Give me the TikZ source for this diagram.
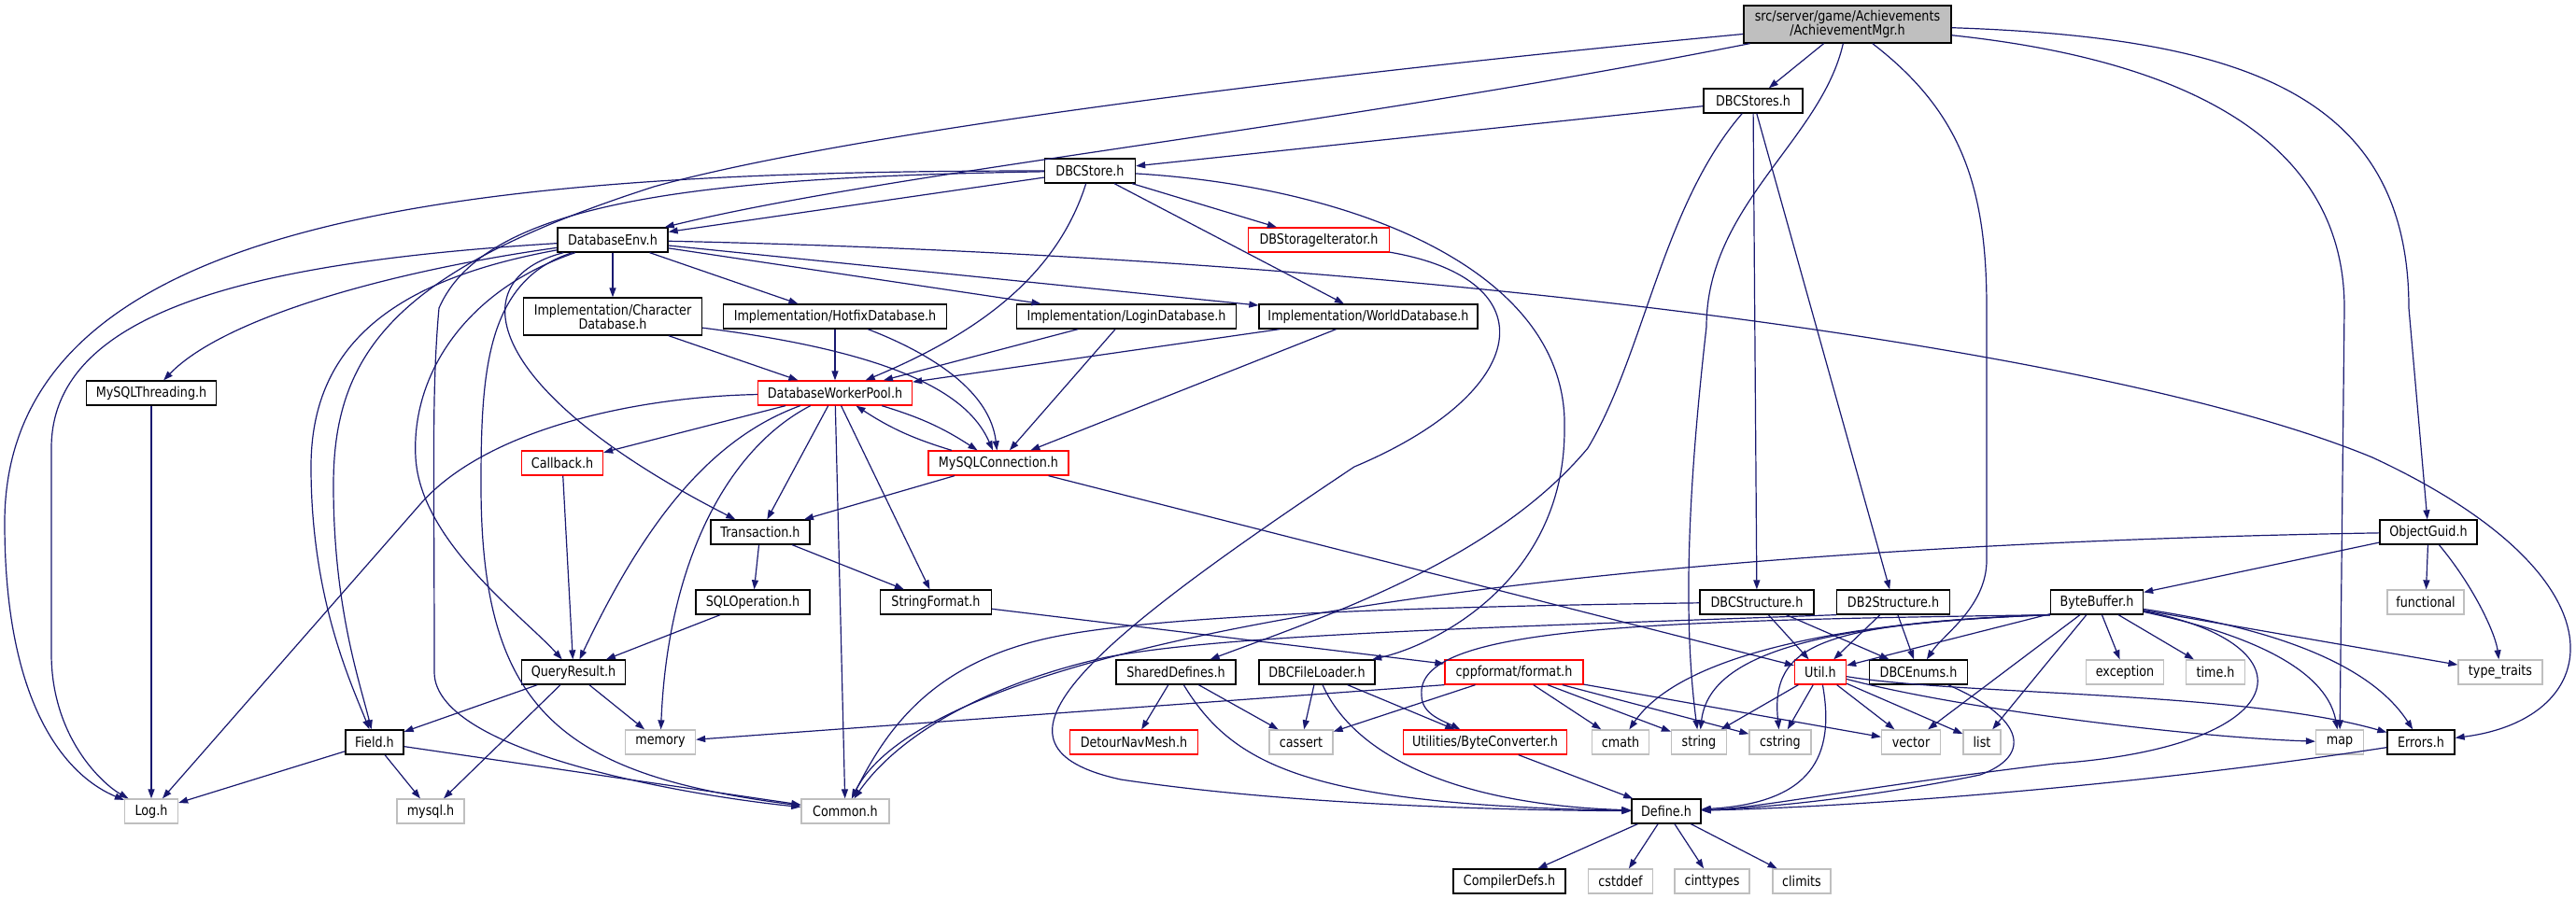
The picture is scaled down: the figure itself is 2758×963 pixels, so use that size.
\documentclass[tikz,border=0pt]{standalone}
\usepackage{fontspec}
\setmainfont{DejaVu Sans}[FakeStretch=0.85]
\usetikzlibrary{arrows.meta}
\definecolor{incblue}{HTML}{191970}
\definecolor{sysgrey}{HTML}{BFBFBF}

\begin{document}
\begin{tikzpicture}[x=1pt, y=-1pt,
    hdr/.style={draw=black, line width=1.3pt, fill=white, minimum height=26pt, inner sep=0pt, font=\fontsize{15}{15}\selectfont},
    redhdr/.style={hdr, draw=red},
    syshdr/.style={hdr, draw=sysgrey},
    inc/.style={draw=incblue, line width=1.2pt, -{Triangle[length=10pt,width=7pt]}}]

  \path[fill=white] (0,0) rectangle (2758,963);
  \useasboundingbox (0,0) rectangle (2758,963);

  \node[hdr, fill=sysgrey, minimum width=222pt, minimum height=40pt, align=center] (root) at (1978,26) {src/server/game/Achievements\\/AchievementMgr.h};
  \node[hdr, minimum width=191pt, minimum height=40pt, align=center] (chardb) at (656,339) {Implementation/Character\\Database.h};
  \node[hdr, minimum width=239pt] (hotfixdb) at (894,339) {Implementation/HotfixDatabase.h};
  \node[hdr, minimum width=235pt] (logindb) at (1206,339) {Implementation/LoginDatabase.h};
  \node[hdr, minimum width=234pt] (worlddb) at (1465,339) {Implementation/WorldDatabase.h};
  \node[redhdr, minimum width=148pt] (cppformat) at (1621,720) {cppformat/format.h};
  \node[redhdr, minimum width=175pt] (byteconv) at (1590,795) {Utilities/ByteConverter.h};

  \foreach \n/\x/\y/\w/\lbl in {dbcstores/1877/108/106/DBCStores.h, dbcstore/1167/183/97/DBCStore.h,
      dbenv/656/257/118/DatabaseEnv.h, mysqlthr/162/421/139/MySQLThreading.h, transaction/814/570/106/Transaction.h,
      objectguid/2600/570/104/ObjectGuid.h, sqlop/806/645/122/SQLOperation.h, stringfmt/1002/645/119/StringFormat.h,
      dbcstructure/1881/645/122/DBCStructure.h, db2structure/2027/645/121/DB2Structure.h, bytebuffer/2245/645/99/ByteBuffer.h,
      queryresult/614/720/111/QueryResult.h, shareddefs/1259/720/128/SharedDefines.h, dbcfileloader/1410/720/124/DBCFileLoader.h,
      dbcenums/2054/720/105/DBCEnums.h, field/401/795/62/Field.h, errors/2592/795/72/Errors.h,
      define/1784/869/74/Define.h, compilerdefs/1616/944/120/CompilerDefs.h}
    \node[hdr, minimum width=\w pt] (\n) at (\x,\y) {\lbl};

  \foreach \n/\x/\y/\w/\lbl in {dbstorit/1412/257/151/DBStorageIterator.h, dwp/894/421/165/DatabaseWorkerPool.h,
      callback/602/496/87/Callback.h, mysqlconn/1069/496/150/MySQLConnection.h, util/1949/720/55/Util.h,
      detour/1214/795/137/DetourNavMesh.h}
    \node[redhdr, minimum width=\w pt] (\n) at (\x,\y) {\lbl};

  \foreach \n/\x/\y/\w/\lbl in {functional/2597/645/82/functional, exception/2275/720/83/exception, timeh/2372/720/63/time.h,
      typetraits/2677/720/90/type\_traits, memory/707/795/75/memory, cassert/1393/795/68/cassert, cmath/1735/795/61/cmath,
      string/1819/795/59/string, cstring/1906/795/66/cstring, vector/2046/795/63/vector, list/2122/795/40/list,
      map/2505/795/51/map, logh/162/869/57/Log.h, mysqlh/461/869/72/mysql.h, common/905/869/94/Common.h,
      cstddef/1735/944/69/cstddef, cinttypes/1833/944/80/cinttypes, climits/1929/944/62/climits}
    \node[syshdr, minimum width=\w pt] (\n) at (\x,\y) {\lbl};

  \foreach \a/\b in {root/dbcstores, dbcstores/dbcstore, dbcstores/dbcstructure, dbcstores/db2structure,
      dbcstore/dbenv, dbcstore/dbstorit, dbcstore/worlddb, dbenv/chardb, dbenv/hotfixdb, dbenv/logindb, dbenv/worlddb,
      chardb/dwp, hotfixdb/dwp, logindb/dwp, logindb/mysqlconn, worlddb/dwp, worlddb/mysqlconn, mysqlthr/logh,
      dwp/callback, dwp/transaction, dwp/common, dwp/stringfmt, mysqlconn/transaction, mysqlconn/util,
      callback/queryresult, transaction/sqlop, transaction/stringfmt, sqlop/queryresult,
      queryresult/field, queryresult/memory, queryresult/mysqlh, field/logh, field/mysqlh, field/common,
      stringfmt/cppformat, shareddefs/detour, shareddefs/cassert, dbcfileloader/cassert, dbcfileloader/byteconv,
      cppformat/cassert, cppformat/cmath, cppformat/string, cppformat/cstring, cppformat/vector, byteconv/define,
      dbcstructure/util, dbcstructure/dbcenums, db2structure/util, db2structure/dbcenums,
      objectguid/bytebuffer, objectguid/functional, bytebuffer/util, bytebuffer/vector, bytebuffer/list,
      bytebuffer/exception, bytebuffer/timeh, bytebuffer/typetraits, util/string, util/cstring, util/vector, util/list,
      define/compilerdefs, define/cstddef, define/cinttypes, define/climits}
    \draw[inc] (\a) -- (\b);

  \draw[inc] (root) .. controls (1400,140) and (950,185) .. (dbenv);
  \draw[inc] (root) .. controls (1300,90) and (880,150) .. (700,200) .. controls (420,290) and (357,380) .. (357,520) .. controls (357,650) and (385,730) .. (field);
  \draw[inc] (root) .. controls (1950,150) and (1827,220) .. (1827,350) .. controls (1810,500) and (1800,650) .. (string);
  \draw[inc] (root) .. controls (2100,120) and (2127,200) .. (2127,330) -- (2127,600) .. controls (2127,650) and (2080,680) .. (dbcenums);
  \draw[inc] (root) .. controls (2300,60) and (2510,130) .. (2510,330) -- (map);
  \draw[inc] (root) .. controls (2400,40) and (2579,100) .. (2579,330) -- (objectguid);

  \draw[inc] (dbcstores) .. controls (1780,220) and (1760,380) .. (1700,480) .. controls (1600,600) and (1420,660) .. (shareddefs);

  \draw[inc] (dbcstore) .. controls (500,183) and (5,230) .. (5,560) .. controls (5,770) and (80,835) .. (logh);
  \draw[inc] (dbcstore) .. controls (750,190) and (520,215) .. (470,330) .. controls (462,420) and (465,500) .. (465,720) .. controls (465,810) and (760,855) .. (common);
  \draw[inc] (dbcstore) .. controls (1130,300) and (1040,360) .. (dwp);
  \draw[inc] (dbcstore) .. controls (1450,200) and (1680,290) .. (1675,460) .. controls (1675,620) and (1540,690) .. (dbcfileloader);
  \draw[inc] (dbstorit) .. controls (1660,300) and (1640,420) .. (1450,500) .. controls (1150,700) and (1040,800) .. (1200,835) .. controls (1400,865) and (1650,868) .. (define);

  \draw[inc] (dbenv) .. controls (280,280) and (55,330) .. (55,480) -- (55,700) .. controls (55,790) and (110,840) .. (logh);
  \draw[inc] (dbenv) .. controls (420,290) and (240,340) .. (mysqlthr);
  \draw[inc] (dbenv) .. controls (420,300) and (333,370) .. (333,500) .. controls (333,640) and (375,730) .. (field);
  \draw[inc] (dbenv) .. controls (500,310) and (440,400) .. (445,490) .. controls (450,580) and (560,660) .. (queryresult);
  \draw[inc] (dbenv) .. controls (520,300) and (515,400) .. (515,520) .. controls (515,760) and (600,830) .. (common);
  \draw[inc] (dbenv) .. controls (490,300) and (520,420) .. (transaction);
  \draw[inc] (dbenv) .. controls (1500,275) and (2250,370) .. (2540,490) .. controls (2820,620) and (2790,770) .. (errors);

  \draw[inc] (chardb) .. controls (980,380) and (1040,430) .. (mysqlconn);
  \draw[inc] (hotfixdb) .. controls (1000,380) and (1060,420) .. (mysqlconn);
  \draw[inc] (dwp) to[bend left=8] (mysqlconn);
  \draw[inc] (mysqlconn) to[bend left=8] (dwp);
  \draw[inc] (dwp) .. controls (680,425) and (520,460) .. (450,540) -- (logh);
  \draw[inc] (dwp) .. controls (760,470) and (690,560) .. (queryresult);
  \draw[inc] (dwp) .. controls (780,480) and (715,600) .. (memory);

  \draw[inc] (cppformat.south west) -- (memory);
  \draw[inc] (shareddefs) .. controls (1320,820) and (1400,862) .. (define);
  \draw[inc] (dbcfileloader) .. controls (1450,810) and (1560,862) .. (define);

  \draw[inc] (dbcstructure) .. controls (1500,650) and (1250,660) .. (1140,680) .. controls (1000,705) and (950,780) .. (common);
  \draw[inc] (db2structure.south west) .. controls (1600,672) and (1300,680) .. (1180,705) .. controls (1050,735) and (960,790) .. (common);
  \draw[inc] (objectguid) .. controls (1700,585) and (1000,680) .. (common);
  \draw[inc] (objectguid) .. controls (2650,630) and (2672,680) .. (typetraits);

  \draw[inc] (bytebuffer.south west) .. controls (1750,665) and (1515,672) .. (1522,745) .. controls (1522,765) and (1545,772) .. (byteconv);
  \draw[inc] (bytebuffer.south west) .. controls (1950,668) and (1830,700) .. (string);
  \draw[inc] (bytebuffer.south west) .. controls (1950,668) and (1895,690) .. (cstring);
  \draw[inc] (bytebuffer.south west) .. controls (1980,665) and (1800,700) .. (cmath);
  \draw[inc] (bytebuffer) .. controls (2460,690) and (2495,740) .. (map);
  \draw[inc] (bytebuffer) .. controls (2480,680) and (2550,730) .. (errors);
  \draw[inc] (bytebuffer) .. controls (2480,690) and (2460,800) .. (2200,818) .. controls (2000,842) and (1880,866) .. (define);

  \draw[inc] (util) .. controls (2100,760) and (2350,790) .. (map);
  \draw[inc] (util) .. controls (2100,745) and (2400,740) .. (errors);
  \draw[inc] (util) .. controls (1965,810) and (1940,860) .. (define);
  \draw[inc] (dbcenums) .. controls (2170,770) and (2175,810) .. (2120,830) .. controls (2000,855) and (1880,866) .. (define);
  \draw[inc] (errors) .. controls (2300,840) and (2000,864) .. (define);
\end{tikzpicture}
\end{document}
